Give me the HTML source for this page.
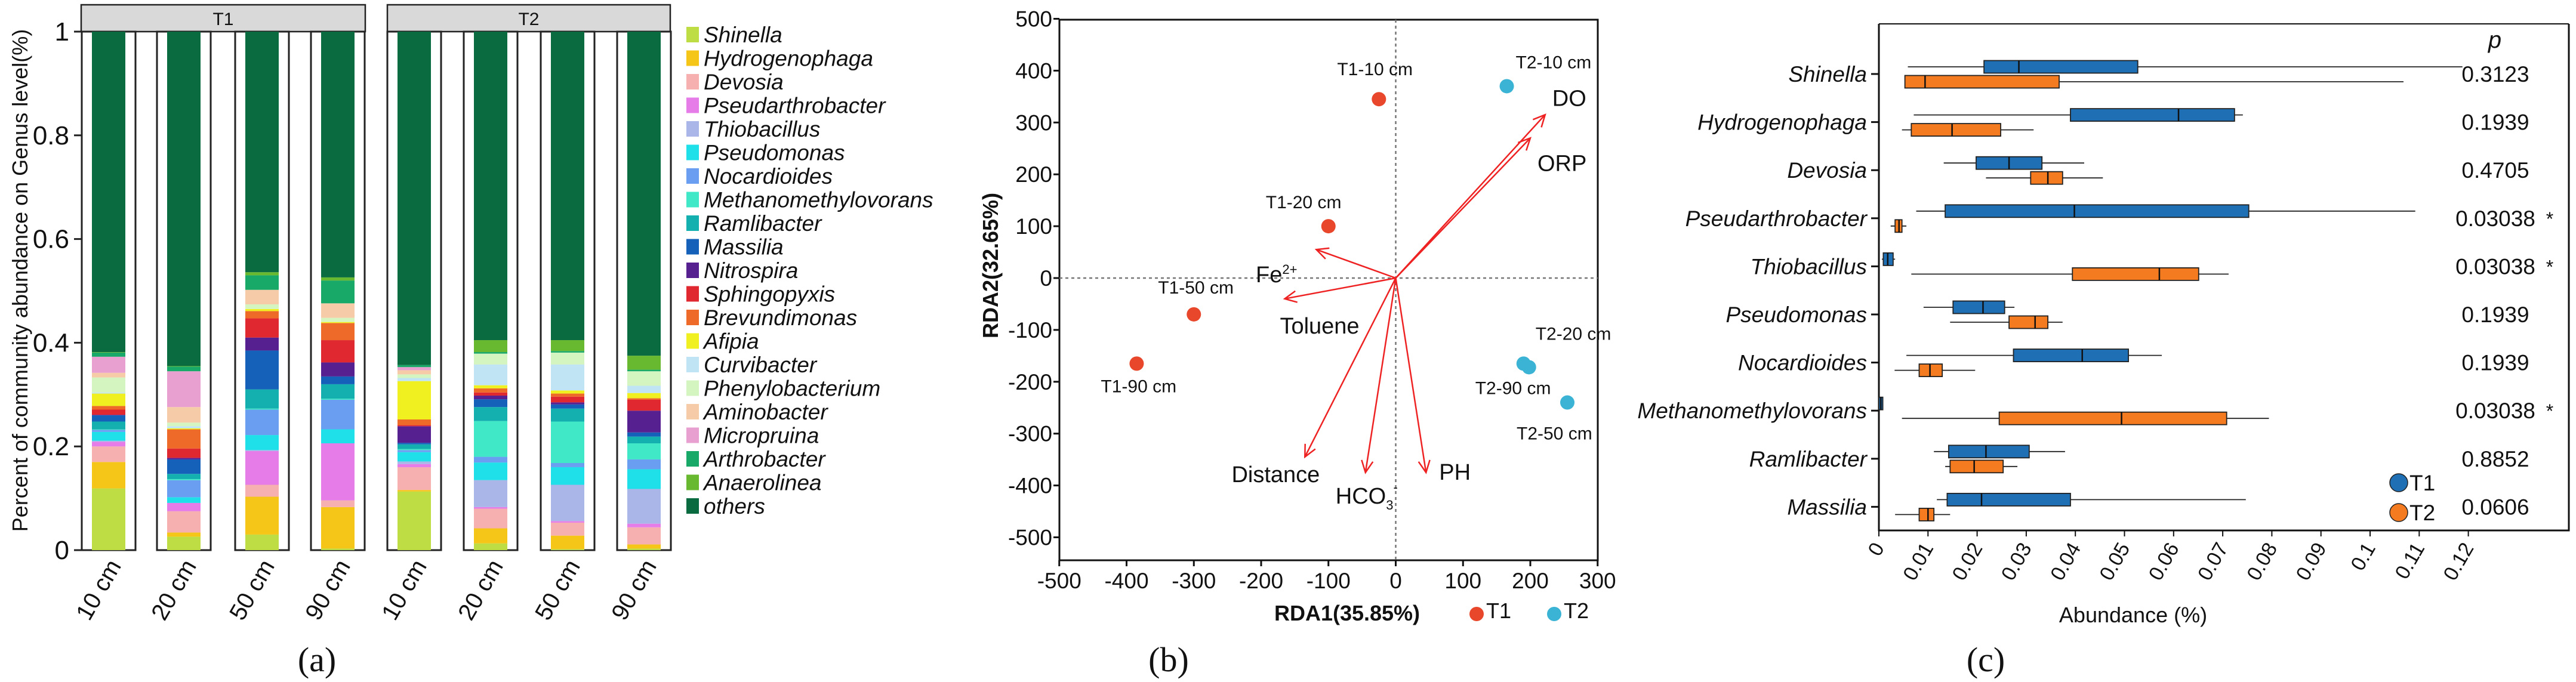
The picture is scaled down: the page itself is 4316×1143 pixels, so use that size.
<!DOCTYPE html>
<html><head><meta charset="utf-8">
<style>
html,body{margin:0;padding:0;background:#fff;}
svg{display:block;font-family:"Liberation Sans",Arial,sans-serif;}
</style></head>
<body>
<svg id="fig" width="4316" height="1143" viewBox="0 0 4316 1143" xmlns="http://www.w3.org/2000/svg">
<g id="pa"></g>
<g id="pb"></g>
<g id="pc"></g>
</svg>
<script>
// ===== Panel (a) data =====
const genera = ["Shinella","Hydrogenophaga","Devosia","Pseudarthrobacter","Thiobacillus","Pseudomonas","Nocardioides","Methanomethylovorans","Ramlibacter","Massilia","Nitrospira","Sphingopyxis","Brevundimonas","Afipia","Curvibacter","Phenylobacterium","Aminobacter","Micropruina","Arthrobacter","Anaerolinea","others"];
const genusColors = ["#bedd45","#f5c518","#f7b0b0","#e57ce8","#aab5e8","#1fdfe8","#6a9ef0","#40e8c8","#14b0b0","#1560b8","#562090","#e02830","#ee6a28","#f0f020","#c0e4f4","#d4f4c0","#f6cca8","#e8a0d0","#18a868","#68b830","#0a6b40"];
const sampleDepths = ["10 cm","20 cm","50 cm","90 cm"];
const groupNames = ["T1","T2"];
const t1_10 = [.119,.051,.030,.009,.002,.017,.004,.001,.015,.012,.001,.010,.007,.024,.002,.029,.009,.031,.008,.001];
const t1_20 = [.026,.008,.041,.016,0,.011,.033,.002,.010,.028,.003,.018,.037,.002,.004,.007,.030,.069,.009,.001];
const t1_50 = [.030,.073,.023,.065,.002,.029,.049,.002,.037,.075,.025,.037,.014,.004,0,.009,.028,0,.028,.006];
const t1_90 = [.003,.080,.013,.110,0,.027,.057,.002,.028,.015,.027,.043,.033,.002,0,.008,.028,0,.044,.006];
const t2_10 = [.113,.003,.044,.006,.005,.018,.004,.002,.009,.003,.032,.002,.011,.074,.006,.007,.008,.006,.004,0];
const t2_20 = [.013,.029,.038,.003,.052,.034,.011,.069,.027,.015,.007,.006,.008,.006,.040,.021,0,0,.003,.023];
const t2_50 = [.002,.026,.025,.003,.070,.034,.008,.080,.025,.008,.004,.011,.006,.006,.050,.023,0,0,.003,.021];
const t2_90 = [.003,.008,.033,.007,.067,.038,.019,.031,.013,.008,.042,.021,.003,.010,.014,.028,0,0,.003,.027];
const yTicksA = [0,0.2,0.4,0.6,0.8,1];
const yTickLabelsA = ["0","0.2","0.4","0.6","0.8","1"];

// ===== Panel (b) data =====
const siteNames = ["T1-10 cm","T1-20 cm","T1-50 cm","T1-90 cm","T2-10 cm","T2-20 cm","T2-90 cm","T2-50 cm"];
const siteX = [-25,-100,-300,-385,165,190,198,255];
const siteY = [345,100,-70,-165,370,-165,-172,-240];
const siteGroup = [0,0,0,0,1,1,1,1];
const envNames = ["DO","ORP","Fe","Toluene","Distance","HCO","PH"];
const envX = [222,200,-118,-165,-135,-45,45];
const envY = [315,270,55,-40,-345,-375,-375];
const xTicksB = [-500,-400,-300,-200,-100,0,100,200,300];
const yTicksB = [500,400,300,200,100,0,-100,-200,-300,-400,-500];

// ===== Panel (c) data =====
const boxGenera = ["Shinella","Hydrogenophaga","Devosia","Pseudarthrobacter","Thiobacillus","Pseudomonas","Nocardioides","Methanomethylovorans","Ramlibacter","Massilia"];
const t1Min = [.0059,.0071,.0132,.0076,.0006,.0091,.0056,0,.0112,.0118];
const t1Q1  = [.0214,.0390,.0198,.0135,.0009,.0151,.0274,0,.0142,.0139];
const t1Med = [.0285,.0610,.0265,.0398,.0018,.0212,.0414,.0004,.0218,.0209];
const t1Q3  = [.0527,.0724,.0332,.0753,.0029,.0256,.0508,.0008,.0306,.0390];
const t1Max = [.1188,.0741,.0418,.1092,.0033,.0276,.0576,.0008,.0379,.0747];
const t2Min = [.0053,.0047,.0218,.0024,.0066,.0145,.0032,.0047,.0135,.0033];
const t2Q1  = [.0053,.0066,.0309,.0033,.0394,.0265,.0082,.0245,.0145,.0082];
const t2Med = [.0094,.0149,.0344,.0041,.0571,.0318,.0104,.0494,.0194,.0100];
const t2Q3  = [.0367,.0248,.0374,.0047,.0651,.0344,.0129,.0708,.0253,.0112];
const t2Max = [.1068,.0315,.0456,.0056,.0712,.0374,.0196,.0794,.0282,.0145];
const pValues = ["0.3123","0.1939","0.4705","0.03038","0.03038","0.1939","0.1939","0.03038","0.8852","0.0606"];
const signif = ["","","","*","*","","","*","",""];
const xTicksC = [0,.01,.02,.03,.04,.05,.06,.07,.08,.09,.1,.11,.12];
const xTickLabelsC = ["0","0.01","0.02","0.03","0.04","0.05","0.06","0.07","0.08","0.09","0.1","0.11","0.12"];

const NS="http://www.w3.org/2000/svg";
function mk(parent, tag, attrs, text){
  const e=document.createElementNS(NS,tag);
  for(const k in attrs) e.setAttribute(k,attrs[k]);
  if(text!==undefined) e.textContent=text;
  parent.appendChild(e); return e;
}

// ================= Panel A =================
(function(){
  const g=document.getElementById('pa');
  const y0=922, y1=53;
  const yA=v=>y0-(y0-y1)*v;
  const bars=[t1_10,t1_20,t1_50,t1_90,t2_10,t2_20,t2_50,t2_90];
  const boxL=[137,263,394,521,649,777,906,1034];
  const boxW=90;
  // strips
  const strips=[[136,612],[649,1123]];
  strips.forEach((s,i)=>{
    const r=mk(g,'rect',{x:s[0],y:8,width:s[1]-s[0],height:y1-8,fill:'#d9d9d9',stroke:'#222','stroke-width':2.5});
    
    
    const t=mk(g,'text',{x:(s[0]+s[1])/2,y:42,'text-anchor':'middle','font-size':30,fill:'#111'},groupNames[i]);
    
    
  });
  bars.forEach((vals,bi)=>{
    const bx=boxL[bi];
    const box=mk(g,'rect',{x:bx,y:y1,width:boxW,height:y0-y1,fill:'#fff',stroke:'#222','stroke-width':3});
    
    
    let cum=0;
    const bw=56, x=bx+(boxW-bw)/2;
    const all=vals.slice(); all.push(Math.max(0,1-vals.reduce((a,b)=>a+b,0)));
    all.forEach((v,k)=>{
      if(v<=0) return;
      const r=mk(g,'rect',{x:x,y:yA(cum+v),width:bw,height:yA(cum)-yA(cum+v),fill:genusColors[k]});
      
      
      cum+=v;
    });
    const cx=bx+boxW/2;
    const lab=mk(g,'text',{x:cx+22,y:948,'text-anchor':'end','font-size':40,fill:'#111',transform:`rotate(-60 ${cx+22} 948)`},sampleDepths[bi%4]);
    
    
  });
  // y axis
  const ax=mk(g,'line',{x1:124,y1:y0,x2:137,y2:y0,stroke:'#222','stroke-width':3});
  
  
  yTicks=yTicksA.forEach((v,i)=>{
    const tk=mk(g,'line',{x1:124,y1:yA(v),x2:137,y2:yA(v),stroke:'#222','stroke-width':3});
    
    
    const t=mk(g,'text',{x:116,y:yA(v)+15,'text-anchor':'end','font-size':44,fill:'#111'},yTickLabelsA[i]);
    
    
  });
  const yt=mk(g,'text',{x:46,y:470,'text-anchor':'middle','font-size':36,fill:'#111',transform:'rotate(-90 46 470)'},'Percent of community abundance on Genus level(%)');
  
  
  // legend
  genera.forEach((n,k)=>{
    const yy=58+k*39.5;
    const r=mk(g,'rect',{x:1150,y:yy-13,width:21,height:26,fill:genusColors[k]});
    
    
    const t=mk(g,'text',{x:1179,y:yy+13,'font-size':37,'font-style':n==='others'?'italic':'italic',fill:'#111'},n);
    
    
  });
  const pl=mk(g,'text',{x:531,y:1125,'text-anchor':'middle','font-size':58,'font-family':'Liberation Serif, serif',fill:'#111'},'(a)');
  
  
})();

// ================= Panel B =================
(function(){
  const g=document.getElementById('pb');
  const L=1775,R=2677,T=33,B=939;
  const xS=v=>2338.5+v*1.1275;
  const yS=v=>466-v*0.869;
  const frame=mk(g,'rect',{x:L,y:T,width:R-L,height:B-T,fill:'none',stroke:'#111','stroke-width':3});
  
  
  const v0=mk(g,'line',{x1:xS(0),y1:T,x2:xS(0),y2:B,stroke:'#777','stroke-width':2.5,'stroke-dasharray':'5,5'});
  
  
  const h0=mk(g,'line',{x1:L,y1:yS(0),x2:R,y2:yS(0),stroke:'#777','stroke-width':2.5,'stroke-dasharray':'5,5'});
  
  
  xTicksB.forEach(v=>{
    const tk=mk(g,'line',{x1:xS(v),y1:B,x2:xS(v),y2:B+10,stroke:'#111','stroke-width':3});
    
    
    const t=mk(g,'text',{x:xS(v),y:986,'text-anchor':'middle','font-size':37,fill:'#111'},String(v));
    
    
  });
  yTicksB.forEach(v=>{
    const tk=mk(g,'line',{x1:L-10,y1:yS(v),x2:L,y2:yS(v),stroke:'#111','stroke-width':3});
    
    
    const t=mk(g,'text',{x:L-12,y:yS(v)+13,'text-anchor':'end','font-size':37,fill:'#111'},String(v));
    
    
  });
  // arrows
  const ox=xS(0), oy=yS(0);
  envX.forEach((ex,i)=>{
    const x2=xS(ex), y2=yS(envY[i]);
    const ln=mk(g,'line',{x1:ox,y1:oy,x2:x2,y2:y2,stroke:'#ee2222','stroke-width':2.5});
    
    
    const a=Math.atan2(y2-oy,x2-ox), h=22, s=0.45;
    const p1=[x2-h*Math.cos(a-s),y2-h*Math.sin(a-s)], p2=[x2-h*Math.cos(a+s),y2-h*Math.sin(a+s)];
    const hd=mk(g,'polyline',{points:`${p1[0]},${p1[1]} ${x2},${y2} ${p2[0]},${p2[1]}`,fill:'none',stroke:'#ee2222','stroke-width':2.5});
    
    
  });
  function lab(txt,x,y,size,name,anchor){
    const t=mk(g,'text',{x:x,y:y,'font-size':size,fill:'#111','text-anchor':anchor||'start'},txt);
    
    
    return t;
  }
  lab('DO',xS(envX[0])+12,yS(envY[0])-15,38,'env-label-do');
  lab('ORP',xS(envX[1])+12,yS(envY[1])+55,38,'env-label-orp');
  const fe=lab('Fe',xS(envX[2])-32,yS(envY[2])+55,38,'env-label-fe','end');
  const feS=mk(fe,'tspan',{dy:-14,'font-size':22},'2+');
  lab('Toluene',xS(envX[3])-8,yS(envY[3])+58,38,'env-label-toluene');
  lab('Distance',xS(envX[4])+25,yS(envY[4])+42,38,'env-label-distance','end');
  const hc=lab('HCO',xS(envX[5])-50,yS(envY[5])+52,38,'env-label-hco3');
  mk(hc,'tspan',{dy:10,'font-size':22},'3');
  mk(hc,'tspan',{dy:-30,'font-size':22},'-');
  lab('PH',xS(envX[6])+22,yS(envY[6])+12,38,'env-label-ph');
  // points
  const gc=['#e8472b','#3bb3d4'];
  const off=[[-70,-40],[-105,-30],[-60,-35],[-60,48],[15,-30],[20,-40],[-90,45],[-85,62]];
  siteX.forEach((sx,i)=>{
    const c=mk(g,'circle',{cx:xS(sx),cy:yS(siteY[i]),r:12,fill:gc[siteGroup[i]]});
    
    
    lab(siteNames[i],xS(sx)+off[i][0],yS(siteY[i])+off[i][1],30,'site-label');
  });
  const xt=lab('RDA1(35.85%)',2257,1040,36,'x-axis-title','middle'); xt.setAttribute('font-weight','bold');
  const yt=mk(g,'text',{x:1672,y:445,'text-anchor':'middle','font-size':36,'font-weight':'bold',fill:'#111',transform:'rotate(-90 1672 445)'},'RDA2(32.65%)');
  
  
  [['T1',2474,gc[0]],['T2',2604,gc[1]]].forEach(d=>{
    const c=mk(g,'circle',{cx:d[1],cy:1029,r:12,fill:d[2]});
    
    
    lab(d[0],d[1]+16,1036,36,'legend-entry');
  });
  const pl=mk(g,'text',{x:1958,y:1125,'text-anchor':'middle','font-size':58,'font-family':'Liberation Serif, serif',fill:'#111'},'(b)');
  
  
})();

// ================= Panel C =================
(function(){
  const g=document.getElementById('pc');
  const L=3148,R=4304,T=40,B=889;
  const xS=v=>L+v*8230;
  const yC=i=>124+i*80.6;
  const ax=mk(g,'polyline',{points:`${L},${T} ${L},${B} ${R},${B} ${R},${T}`,fill:'none',stroke:'#111','stroke-width':3});
  
  
  const tl=mk(g,'line',{x1:L,y1:T,x2:R,y2:T,stroke:'#111','stroke-width':2});
  
  
  xTicksC.forEach((v,i)=>{
    const tk=mk(g,'line',{x1:xS(v),y1:B,x2:xS(v),y2:B+10,stroke:'#111','stroke-width':2});
    
    
    const t=mk(g,'text',{x:xS(v)+10,y:918,'text-anchor':'end','font-size':34,fill:'#111',transform:`rotate(-60 ${xS(v)+10} 918)`},xTickLabelsC[i]);
    
    
  });
  const cols=['#1f6fb4','#f47b20'];
  const series=[[t1Min,t1Q1,t1Med,t1Q3,t1Max],[t2Min,t2Q1,t2Med,t2Q3,t2Max]];
  boxGenera.forEach((n,i)=>{
    const yc=yC(i);
    const tk=mk(g,'line',{x1:L-13,y1:yc,x2:L,y2:yc,stroke:'#111','stroke-width':3});
    
    
    const t=mk(g,'text',{x:L-20,y:yc+13,'text-anchor':'end','font-size':37,'font-style':'italic',fill:'#111'},n);
    
    
    series.forEach((s,k)=>{
      const y=yc+(k===0?-12:13), h=21;
      const w=mk(g,'line',{x1:xS(s[0][i]),y1:y,x2:xS(s[4][i]),y2:y,stroke:'#222','stroke-width':1.8});
      
      
      const b=mk(g,'rect',{x:xS(s[1][i]),y:y-h/2,width:Math.max(3,xS(s[3][i])-xS(s[1][i])),height:h,fill:cols[k],stroke:'#222','stroke-width':1.8});
      
      
      const m=mk(g,'line',{x1:xS(s[2][i]),y1:y-h/2,x2:xS(s[2][i]),y2:y+h/2,stroke:'#111','stroke-width':2.5});
      
      
    });
    const p=mk(g,'text',{x:4181,y:yc+13,'text-anchor':'middle','font-size':37,fill:'#111'},pValues[i]);
    
    
    if(signif[i]){
      const st=mk(g,'text',{x:4272,y:yc+12,'text-anchor':'middle','font-size':32,fill:'#111'},signif[i]);
      
      
    }
  });
  const ph=mk(g,'text',{x:4180,y:80,'text-anchor':'middle','font-size':40,'font-style':'italic',fill:'#111'},'p');
  
  
  [['T1',809,cols[0]],['T2',859,cols[1]]].forEach(d=>{
    const c=mk(g,'circle',{cx:4019,cy:d[1],r:15,fill:d[2],stroke:'#222','stroke-width':1.5});
    
    
    const t=mk(g,'text',{x:4037,y:d[1]+13,'font-size':37,fill:'#111'},d[0]);
    
    
  });
  const xt=mk(g,'text',{x:3574,y:1043,'text-anchor':'middle','font-size':36,fill:'#111'},'Abundance (%)');
  
  
  const pl=mk(g,'text',{x:3327,y:1125,'text-anchor':'middle','font-size':58,'font-family':'Liberation Serif, serif',fill:'#111'},'(c)');
  
  
})();
</script>
</body></html>
